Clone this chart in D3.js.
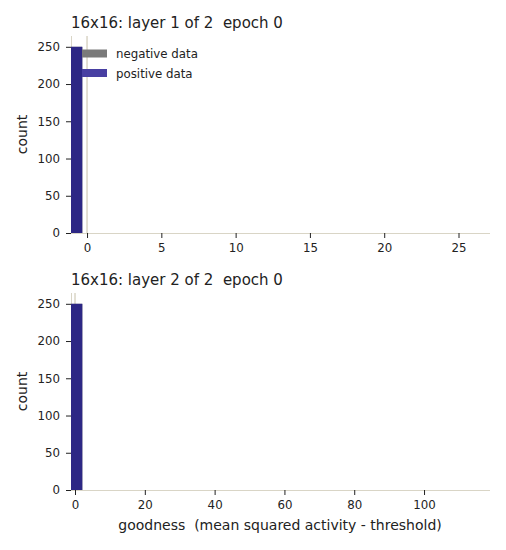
<!DOCTYPE html>
<html>
<head>
<meta charset="utf-8">
<script src="https://cdn.jsdelivr.net/npm/d3@7"></script>
<style>
  body { margin: 0; background: #fff; }
  text { font-family: "DejaVu Sans", sans-serif; fill: #222; white-space: pre; }
</style>
</head>
<body>
<div id="chart"></div>
<script>
// histogram data
const layerTitles = ["16x16: layer 1 of 2  epoch 0", "16x16: layer 2 of 2  epoch 0"];
const layer1Edges = [-1.08, -0.32];
const layer1Neg = [250];
const layer1Pos = [250];
const layer2Edges = [-1.15, 2.09];
const layer2Neg = [250];
const layer2Pos = [250];
const layer1Ticks = [0, 5, 10, 15, 20, 25];
const layer2Ticks = [0, 20, 40, 60, 80, 100];
const yTicks = [0, 50, 100, 150, 200, 250];
const legendLabels = ["negative data", "positive data"];

const W = 506, H = 550;
const svg = d3.select("#chart").append("svg")
    .attr("width", W).attr("height", H);

const panels = [
    {title: layerTitles[0], edges: layer1Edges, neg: layer1Neg, pos: layer1Pos,
     xDomain: [-1.08, 27.12], ticks: layer1Ticks, top: 36, bottom: 233, legend: true},
    {title: layerTitles[1], edges: layer2Edges, neg: layer2Neg, pos: layer2Pos,
     xDomain: [-1.15, 118.9], ticks: layer2Ticks, top: 293, bottom: 490, legend: false}
];

const left = 71, right = 490;
const spine = "#d9d5c6";
const posColor = "#2d2785", negColor = "#7a7a7a";
const tickFont = "11.8px";

panels.forEach(p => {
    const x = d3.scaleLinear().domain(p.xDomain).range([left, right]);
    const y = d3.scaleLinear().domain([0, 264.5]).range([p.bottom, p.top]);
    const g = svg.append("g");

    // left spine (light) and zero line
    g.append("line")
        .attr("x1", left + 0.5).attr("x2", left + 0.5)
        .attr("y1", p.top).attr("y2", p.bottom)
        .attr("stroke", spine).attr("stroke-width", 1);
    g.append("line")
        .attr("x1", x(0)).attr("x2", x(0))
        .attr("y1", p.top).attr("y2", p.bottom)
        .attr("stroke", spine).attr("stroke-width", 1.5);

    // bars: negative under positive
    const bins = p.edges.slice(0, -1).map((e, i) => ({x0: e, x1: p.edges[i + 1], neg: p.neg[i], pos: p.pos[i]}));
    g.selectAll(".neg").data(bins).join("rect")
        .attr("x", d => x(d.x0)).attr("width", d => x(d.x1) - x(d.x0))
        .attr("y", d => y(d.neg)).attr("height", d => y(0) - y(d.neg))
        .attr("fill", negColor);
    g.selectAll(".pos").data(bins).join("rect")
        .attr("x", d => x(d.x0)).attr("width", d => x(d.x1) - x(d.x0))
        .attr("y", d => y(d.pos)).attr("height", d => y(0) - y(d.pos))
        .attr("fill", posColor);

    // bottom spine
    g.append("line")
        .attr("x1", left).attr("x2", right)
        .attr("y1", p.bottom + 0.5).attr("y2", p.bottom + 0.5)
        .attr("stroke", spine).attr("stroke-width", 1.2);

    // axes
    const xAxis = g.append("g")
        .attr("transform", `translate(0,${p.bottom})`)
        .call(d3.axisBottom(x).tickValues(p.ticks).tickSize(5).tickPadding(6));
    const yAxis = g.append("g")
        .attr("transform", `translate(${left},0)`)
        .call(d3.axisLeft(y).tickValues(yTicks).tickSize(5).tickPadding(6));
    [xAxis, yAxis].forEach(a => {
        a.select(".domain").remove();
        a.selectAll("line").attr("stroke", "#222");
        a.selectAll("text").style("font-family", "DejaVu Sans").style("font-size", tickFont).attr("fill", "#222");
    });

    // title and y label
    g.append("text")
        .attr("x", left).attr("y", p.top - 8)
        .style("font-size", "15px")
        .text(p.title);
    g.append("text")
        .attr("transform", `translate(27,${(p.top + p.bottom) / 2}) rotate(-90)`)
        .attr("text-anchor", "middle")
        .style("font-size", "14px")
        .text("count");

    if (p.legend) {
        const lg = g.append("g").attr("transform", `translate(82,${p.top + 17.5})`);
        const swatch = [negColor, "#483fa2"];
        legendLabels.forEach((lab, i) => {
            lg.append("rect")
                .attr("x", 0).attr("y", i * 19.5 - 4)
                .attr("width", 25).attr("height", 8)
                .attr("fill", swatch[i]);
            lg.append("text")
                .attr("x", 34).attr("y", i * 19.5 + 4.5)
                .style("font-size", tickFont)
                .text(lab);
        });
    }
});

svg.append("text")
    .attr("x", 280).attr("y", 530)
    .attr("text-anchor", "middle")
    .style("font-size", "14px")
    .text("goodness  (mean squared activity - threshold)");
</script>
</body>
</html>
